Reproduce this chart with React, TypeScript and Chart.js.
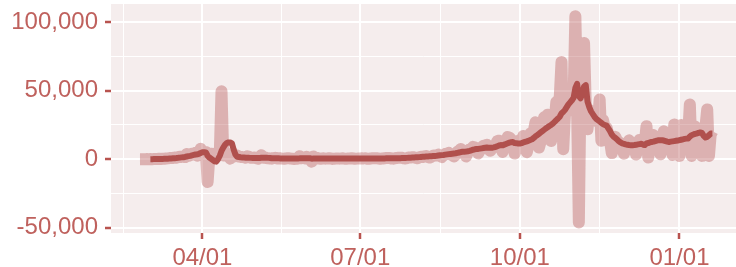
import React, { useEffect, useRef } from 'react';
import { Chart, registerables } from 'chart.js';

Chart.register(...registerables);

// ---- data ----
const START_DATE = '2020-02-25';
const AXIS_BREAK_DATES = ['2020-01-01', '2020-04-01', '2020-07-01', '2020-10-01', '2021-01-01'];
const AXIS_BREAK_LABELS = ['', '04/01', '07/01', '10/01', '01/01'];
const Y_MAJOR_TICKS = [-50000, 0, 50000, 100000];
const Y_MINOR_TICKS = [-25000, 25000, 75000];

const DAILY_CASES = [
  // Feb 25-29
  2, 4, 20, 19, 43,
  // Mar
  30, 61, 21, 73, 138, 190, 336, 177, 286, 372, 497, 595, 785, 838, 924, 1210, 1097, 1404, 1861, 1617,
  1847, 1559, 3838, 2446, 2931, 3922, 3809, 4611, 2599, 4376, 7578,
  // Apr
  4861, 2116, 5233, -16600, 1873, 3912, 3777, 3881, 4286, 4342, 3114, 49600, 2673, 5497, 2633,
  2641, 405, 2183, 1938, 2489, 2667, 1827, 1653, 1537, 1487, 1062, 2130, 1637, 1063, 1111,
  // May
  1200, 800, 300, 900, 2900, 1100, 1300, 800, 600, 500, 400, 800, 1000, 500, 700, 600, 400, 300,
  500, 600, 700, 400, 300, 200, 250, 500, 2200, 700, 1000, 600, 1800,
  // Jun
  300, 400, -1800, 2000, 600, 1100, 400, 300, 500, 600, 400, 500, 700, 500, 200, 400, 450, 500,
  400, 500, 600, 300, 350, 450, 550, 700, 500, 300, 400, 500,
  // Jul
  550, 600, 580, 650, 300, 350, 500, 600, 650, 700, 660, 400, 350, 550, 700, 800, 850, 900, 500,
  400, 700, 900, 1000, 1100, 1000, 600, 500, 800, 1200, 1300, 1400,
  // Aug
  1350, 900, 700, 1400, 1700, 1600, 2000, 2300, 1600, 1200, 1800, 2500, 2700, 2700, 3300, 2400,
  1600, 3000, 3800, 4000, 4600, 3600, 3000, 1900, 3300, 5400, 6100, 7400, 5500, 4900, 2000,
  // Sep
  4982, 7017, 7157, 8975, 8550, 7071, 4203, 6544, 8577, 9843, 9406, 10561, 7183, 6158, 7852, 9784,
  9930, 13215, 13498, 10569, 5298, 10008, 13072, 16096, 15797, 14412, 11123, 4070, 8051, 12845,
  // Oct
  13970, 12148, 16972, 12565, 5084, 10489, 18746, 18129, 20339, 26896, 16101, 8505, 12993, 22591,
  30621, 25086, 32427, 29837, 13243, 20468, 26676, 41622, 42032, 45422, 71000, 7300, 33417, 36437,
  47637, 49215, 35641,
  // Nov
  46290, 104400, 36330, -46200, 58046, 60486, 84900, 38619, 21900, 35879, 33172, 32000, 31000,
  32095, 27228, 43600, 13400, 28383, 21150, 22882, 17881, 13157, 4452, 9155, 16282, 13563, 12459,
  11221, 9784, 4005,
  // Dec
  8083, 11017, 13750, 11239, 11022, 10934, 3411, 10600, 14064, 13947, 13406, 11533, 24100, 1200,
  11500, 14900, 17600, 15700, 13300, 11800, 3600, 14900, 20400, 18000, 15500, 12400, 9600, 3100,
  25300, 14000, 11400,
  // Jan 1-20
  2400, 25000, 23000, 21700, 20000, 16800, 40000, 2400, 20000, 23900, 21000, 22100, 18000, 2400,
  18000, 23600, 36300, 2400, 18000, 20400,
];

const ROLLING_AVG = [
  // Feb 25-29
  null, null, null, null, null,
  // Mar
  null, 20, 30, 40, 60, 90, 130, 160, 200, 250, 300, 370, 450, 530, 620, 730, 840, 980, 1150, 1320,
  1470, 1620, 1960, 2200, 2450, 2800, 3100, 3400, 3600, 3900, 4500,
  // Apr
  5000, 5100, 4900, 2500, 1200, 300, -600, -1500, -1800, 0, 2500, 6000, 8500, 10500, 11800, 12200,
  12200, 11500, 7000, 3500, 1800, 1600, 1400, 1300, 1200, 1100, 1100, 1000, 950, 900,
  // May
  900, 880, 850, 850, 1000, 1000, 1050, 1000, 950, 900, 700, 680, 650, 620, 600, 580, 560, 540, 520,
  520, 500, 480, 460, 450, 440, 430, 600, 620, 640, 660, 700,
  // Jun
  680, 650, 400, 450, 420, 500, 450, 450, 500, 550, 500, 480, 470, 480, 470, 460, 450, 460, 470, 470,
  470, 460, 450, 450, 460, 480, 490, 480, 470, 470,
  // Jul
  480, 490, 500, 520, 530, 530, 530, 530, 540, 550, 560, 560, 560, 570, 580, 600, 620, 650, 660, 680,
  700, 720, 740, 760, 800, 850, 900, 950, 1050, 1100, 1200,
  // Aug
  1300, 1350, 1400, 1500, 1600, 1700, 1800, 1900, 2000, 2100, 2200, 2300, 2400, 2500, 2650, 2800,
  2950, 3100, 3300, 3500, 3700, 3850, 4000, 4150, 4300, 4600, 4900, 5200, 5400, 5500, 5600,
  // Sep
  5800, 6100, 6500, 6900, 7200, 7400, 7500, 7700, 7900, 8100, 8300, 8500, 8400, 8300, 8400, 8600,
  9000, 9500, 10000, 10300, 10100, 10600, 11100, 11600, 12100, 12400, 12500, 11800, 11700, 11500,
  // Oct
  11400, 11700, 12200, 12600, 13000, 13500, 14000, 14500, 15500, 16700, 17500, 18500, 19500, 20500,
  21500, 22500, 23300, 24200, 25000, 26000, 27200, 28500, 29700, 31000, 33500, 34500, 36000, 38000,
  40000, 41500, 43000,
  // Nov
  45000, 52000, 55000, 46000, 44500, 48000, 53000, 54000, 42000, 38000, 35000, 33000, 31000, 29500,
  28500, 27500, 26500, 25500, 25000, 24500, 22500, 20500, 18000, 16500, 15500, 14500, 13200, 12200,
  11500, 11200,
  // Dec
  10800, 10500, 10300, 10200, 10200, 10300, 10500, 10800, 11000, 11200, 10700, 10300, 11500, 11800,
  12200, 12600, 12800, 13200, 13600, 13900, 13900, 13800, 13600, 13200, 12800, 12600, 12800, 13000,
  13200, 13400, 13600,
  // Jan 1-20
  13900, 14200, 14500, 14800, 15000, 15100, 16500, 17500, 18000, 18500, 18700, 19200, 19500, 19200,
  17000, 15800, 16300, 17500, 18700, 18700,
];

// ---- styling ----
const TEXT_COLOR = '#bf615d';
const TICK_COLOR = '#b8534f';
const LINE_COLOR = '#b0504d';
const BAND_COLOR = 'rgba(180, 80, 78, 0.38)';
const PANEL_BG = '#f5eded';
const FONT = "'Liberation Sans', Arial, Helvetica, sans-serif";

const dayOf = (d: string) => Math.round((Date.parse(d) - Date.parse(START_DATE)) / 86400000);

export default function App() {
  const ref = useRef<HTMLCanvasElement | null>(null);

  useEffect(() => {
    if (!ref.current) return;
    const breakDays = AXIS_BREAK_DATES.map(dayOf);
    const majorX = breakDays.slice(1);
    const minorX = breakDays.slice(0, -1).map((d, i) => (d + breakDays[i + 1]) / 2);
    const labelByDay = new Map<number, string>();
    breakDays.forEach((d, i) => labelByDay.set(d, AXIS_BREAK_LABELS[i]));
    const isMajorX = (v: number) => majorX.includes(v);
    const isMajorY = (v: number) => Y_MAJOR_TICKS.includes(v);

    const dailyPts = DAILY_CASES.map((y, i) => ({ x: i, y }));
    const avgPts = ROLLING_AVG.map((y, i) => ({ x: i, y }));

    const panelBg = {
      id: 'panelBg',
      beforeDraw(chart: any) {
        const { ctx, chartArea } = chart;
        ctx.save();
        ctx.fillStyle = PANEL_BG;
        ctx.fillRect(chartArea.left, chartArea.top, chartArea.right - chartArea.left, chartArea.bottom - chartArea.top);
        ctx.restore();
      },
    };

    const chart = new Chart(ref.current, {
      type: 'line',
      data: {
        datasets: [
          {
            label: 'daily',
            data: dailyPts,
            borderColor: BAND_COLOR,
            borderWidth: 12,
            pointRadius: 0,
            borderJoinStyle: 'round',
            borderCapStyle: 'butt',
            tension: 0,
            order: 2,
          },
          {
            label: 'avg',
            data: avgPts,
            borderColor: LINE_COLOR,
            borderWidth: 6,
            pointRadius: 0,
            borderJoinStyle: 'round',
            borderCapStyle: 'butt',
            tension: 0,
            spanGaps: false,
            order: 1,
          },
        ],
      },
      options: {
        responsive: false,
        animation: false,
        devicePixelRatio: 1,
        layout: { padding: { top: 4, left: 0, right: 0, bottom: 0 } },
        plugins: { legend: { display: false }, tooltip: { enabled: false } },
        scales: {
          x: {
            type: 'linear',
            min: -16.7,
            max: 343.6,
            border: { display: false },
            afterBuildTicks: (s: any) => {
              s.ticks = [...minorX, ...majorX].sort((a, b) => a - b).map((v) => ({ value: v }));
            },
            afterFit: (s: any) => {
              s.height = 34;
              s.paddingLeft = 0;
              s.paddingRight = 0;
            },
            grid: {
              color: '#ffffff',
              lineWidth: (c: any) => (isMajorX(c.tick?.value) ? 2 : 1),
              tickColor: (c: any) => (isMajorX(c.tick?.value) ? TICK_COLOR : 'rgba(0,0,0,0)'),
              tickLength: 6,
              tickWidth: 2.5,
            },
            ticks: {
              autoSkip: false,
              maxRotation: 0,
              padding: 5,
              color: TEXT_COLOR,
              font: { family: FONT, size: 24 },
              callback: (v: any) => (isMajorX(v) ? labelByDay.get(v) || '' : ''),
            },
          },
          y: {
            type: 'linear',
            min: -53900,
            max: 113300,
            border: { display: false },
            afterBuildTicks: (s: any) => {
              s.ticks = [...Y_MINOR_TICKS, ...Y_MAJOR_TICKS].sort((a, b) => a - b).map((v) => ({ value: v }));
            },
            afterFit: (s: any) => {
              s.width = 111;
              s.paddingTop = 0;
              s.paddingBottom = 0;
            },
            grid: {
              color: '#ffffff',
              lineWidth: (c: any) => (isMajorY(c.tick?.value) ? 2 : 1),
              tickColor: (c: any) => (isMajorY(c.tick?.value) ? TICK_COLOR : 'rgba(0,0,0,0)'),
              tickLength: 6,
              tickWidth: 2.5,
            },
            ticks: {
              padding: 7,
              color: TEXT_COLOR,
              font: { family: FONT, size: 24 },
              callback: (v: any) => (isMajorY(v) ? Number(v).toLocaleString('en-US') : ''),
            },
          },
        },
      },
      plugins: [panelBg],
    } as any);

    return () => chart.destroy();
  }, []);

  return (
    <div style={{ position: 'fixed', left: 0, top: 0, width: 736, height: 267, background: '#ffffff' }}>
      <canvas ref={ref} width={736} height={267} style={{ width: 736, height: 267, display: 'block' }} />
    </div>
  );
}
